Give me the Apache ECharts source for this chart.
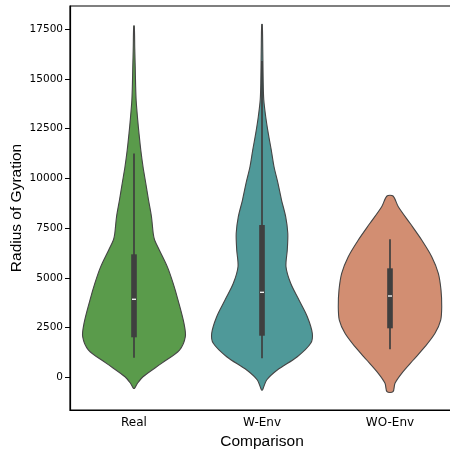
<!DOCTYPE html>
<html><head><meta charset="utf-8">
<script src="https://cdn.jsdelivr.net/npm/echarts@6/dist/echarts.min.js"></script>
<style>html,body{margin:0;padding:0;background:#fff}#c{width:450px;height:454px}</style>
</head><body><div id="c"></div>
<script>
const categories = ['Real', 'W-Env', 'WO-Env'];
const yTicks = [0, 2500, 5000, 7500, 10000, 12500, 15000, 17500];

// violin outlines: values and relative half-widths (fraction of half band)
const realY = [17660, 16500, 15600, 14700, 13900, 12900, 12260, 11420, 10580, 9750, 8910, 8070, 7240, 6900, 6400, 5560, 4720, 3880, 2710, 2040, 1370, 700, 30, -300, -555];
const realW = [0.005, 0.012, 0.019, 0.025, 0.034, 0.059, 0.078, 0.106, 0.141, 0.184, 0.227, 0.273, 0.300, 0.322, 0.395, 0.520, 0.612, 0.688, 0.781, 0.802, 0.711, 0.430, 0.141, 0.055, 0.008];

const wenvY = [17735, 16444, 14771, 13932, 13093, 12259, 11420, 10581, 9747, 8909, 8069, 7235, 6396, 5557, 4723, 3884, 3045, 2211, 1708, 1035, 367, -136, -638];
const wenvW = [0.005, 0.012, 0.019, 0.028, 0.058, 0.098, 0.145, 0.188, 0.25, 0.305, 0.37, 0.403, 0.395, 0.375, 0.448, 0.578, 0.708, 0.786, 0.761, 0.552, 0.239, 0.073, 0.008];

const woenvY = [9110, 8573, 7739, 6899, 6059, 5226, 4386, 3547, 2879, 2211, 1537, 869, 201, -301, -724];
const woenvW = [0.047, 0.130, 0.313, 0.495, 0.652, 0.755, 0.797, 0.808, 0.792, 0.703, 0.547, 0.364, 0.183, 0.078, 0.047];

// inner box statistics
const q1 = [2010, 2090, 2462];
const medians = [3920, 4270, 4085];
const q3 = [6180, 7652, 5476];
const whiskerLow = [985, 955, 1407];
const whiskerHigh = [11250, 15900, 6933];

const colors = ['#5a9b4b', '#4f9999', '#d28e72'];
const profiles = [[realY, realW], [wenvY, wenvW], [woenvY, woenvW]];

const chart = echarts.init(document.getElementById('c'));
chart.setOption({
  animation: false,
  backgroundColor: '#fff',
  grid: { left: 70, top: 6, width: 384, height: 404, containLabel: false, outerBoundsMode: 'none', show: true, borderColor: '#000', borderWidth: 1.2, backgroundColor: 'transparent' },
  xAxis: {
    type: 'category',
    data: categories,
    name: 'Comparison',
    nameLocation: 'middle',
    nameGap: 24,
    nameMoveOverlap: false,
    nameTextStyle: { fontFamily: 'Liberation Sans', fontSize: 15.5, color: '#000' },
    axisLine: { onZero: false, lineStyle: { color: '#000', width: 1.2 } },
    axisTick: { alignWithLabel: true, length: 4, lineStyle: { color: '#000' } },
    axisLabel: { fontFamily: 'DejaVu Sans', fontSize: 12, color: '#000', margin: 7 },
    splitLine: { show: false }
  },
  yAxis: {
    type: 'value',
    min: -1643,
    max: 18658,
    name: 'Radius of Gyration',
    nameLocation: 'middle',
    nameGap: 45,
    nameMoveOverlap: false,
    nameTextStyle: { fontFamily: 'Liberation Sans', fontSize: 15.5, color: '#000' },
    axisLine: { show: true, onZero: false, lineStyle: { color: '#000', width: 1.2 } },
    axisTick: { show: true, length: 5, customValues: yTicks, lineStyle: { color: '#000' } },
    axisLabel: { fontFamily: 'DejaVu Sans', fontSize: 10.5, color: '#000', margin: 7, customValues: yTicks, formatter: v => String(v) },
    splitLine: { show: false }
  },
  series: [{
    type: 'custom',
    clip: false,
    data: categories.map((c, i) => [i]),
    encode: { x: 0 },
    renderItem: function (params, api) {
      const i = api.value(0);
      const ys = profiles[i][0], ws = profiles[i][1];
      const band = api.size([1, 0])[0];
      const cx = api.coord([i, 0])[0];
      const right = [], left = [];
      for (let k = 0; k < ys.length; k++) {
        const py = api.coord([i, ys[k]])[1];
        const hw = ws[k] * band / 2;
        right.push([cx + hw, py]);
        left.push([cx - hw, py]);
      }
      const pts = right.concat(left.reverse());
      const yq1 = api.coord([i, q1[i]])[1];
      const yq3 = api.coord([i, q3[i]])[1];
      const ymed = api.coord([i, medians[i]])[1];
      const ylo = api.coord([i, whiskerLow[i]])[1];
      const yhi = api.coord([i, whiskerHigh[i]])[1];
      const bw = band * 0.044;
      return {
        type: 'group',
        children: [
          { type: 'polygon', shape: { points: pts, smooth: 0.3 }, style: { fill: colors[i], stroke: '#454545', lineWidth: 1.1 } },
          { type: 'line', shape: { x1: cx, y1: yhi, x2: cx, y2: ylo }, style: { stroke: '#3f3f3f', lineWidth: 1.7 } },
          { type: 'rect', shape: { x: cx - bw / 2, y: yq3, width: bw, height: yq1 - yq3 }, style: { fill: '#3f3f3f' } },
          { type: 'line', shape: { x1: cx - bw / 2 + 0.8, y1: ymed, x2: cx + bw / 2 - 0.8, y2: ymed }, style: { stroke: '#f0f0f0', lineWidth: 1.4 } }
        ]
      };
    }
  }]
});
</script>
</body></html>
